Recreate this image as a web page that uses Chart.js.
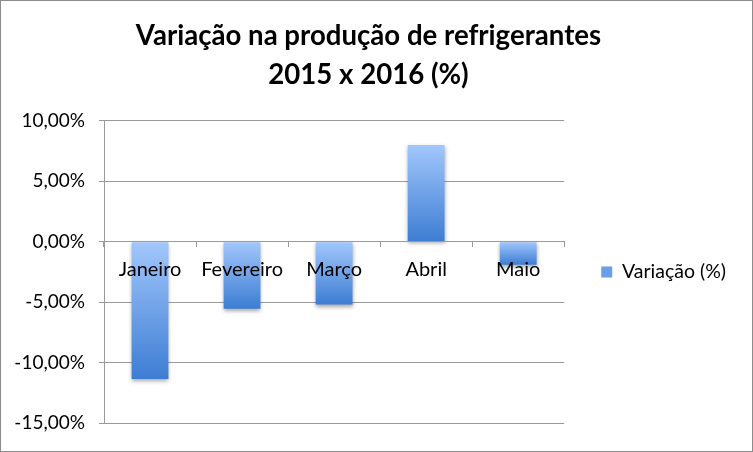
<!DOCTYPE html>
<html>
<head>
<meta charset="utf-8">
<script src="https://cdn.jsdelivr.net/npm/chart.js@4.4.1/dist/chart.umd.min.js"></script>
<style>
  body { margin: 0; background: #fff; }
  #wrap { width: 753px; height: 452px; box-sizing: border-box; border: 1px solid #8c8c8c; }
  canvas { display: block; }
</style>
</head>
<body>
<div id="wrap"><canvas id="chart" width="751" height="450"></canvas></div>
<script>
// valores
const meses = ['Janeiro', 'Fevereiro', 'Março', 'Abril', 'Maio'];
const variacao = [-11.35, -5.55, -5.2, 8.0, -1.9];
const yTicks = [10, 5, 0, -5, -10, -15];

const FONT = 'Lato, "Open Sans", sans-serif';

function formatPct(v) {
    return v.toFixed(2).replace('.', ',') + '%';
}

// gradiente por barra: claro em cima, escuro embaixo
function barGradient(context) {
    const chart = context.chart;
    const yScale = chart.scales.y;
    if (!chart.chartArea || !yScale || context.parsed === undefined) return '#6a9ee8';
    const v = context.parsed.y;
    const top = yScale.getPixelForValue(Math.max(v, 0));
    const bottom = yScale.getPixelForValue(Math.min(v, 0));
    const g = chart.ctx.createLinearGradient(0, top, 0, bottom + 0.01);
    g.addColorStop(0, '#a2c7fc');
    g.addColorStop(1, '#3d7dd3');
    return g;
}

const shadowPlugin = {
    id: 'barShadow',
    beforeDatasetsDraw(chart) {
        const ctx = chart.ctx;
        ctx.save();
        ctx.shadowColor = 'rgba(0,0,0,0.35)';
        ctx.shadowBlur = 4;
        ctx.shadowOffsetY = 2;
    },
    afterDatasetsDraw(chart) {
        chart.ctx.restore();
    }
};

const ctx = document.getElementById('chart').getContext('2d');
new Chart(ctx, {
    type: 'bar',
    data: {
        labels: meses,
        datasets: [{
            label: 'Variação (%)',
            data: variacao,
            backgroundColor: barGradient,
            borderWidth: 0,
            barPercentage: 0.4,
            categoryPercentage: 1.0
        }]
    },
    options: {
        responsive: false,
        animation: false,
        layout: { padding: { left: 0, right: 16, top: 0, bottom: 28 } },
        plugins: {
            title: {
                display: true,
                text: ['Variação na produção de refrigerantes', '2015 x 2016 (%)'],
                color: '#000',
                font: { family: FONT, size: 27.6, weight: 'bold', lineHeight: 1.41 },
                padding: { top: 15.5, bottom: 26.5 }
            },
            legend: {
                position: 'right',
                fullSize: false,
                labels: {
                    color: '#000',
                    font: { family: FONT, size: 19.5 },
                    boxWidth: 11,
                    boxHeight: 11,
                    padding: 37,
                    generateLabels() {
                        return [{
                            text: 'Variação (%)',
                            fillStyle: '#6a9ee8',
                            strokeStyle: '#6a9ee8',
                            lineWidth: 0,
                            datasetIndex: 0
                        }];
                    }
                }
            },
            tooltip: { enabled: false }
        },
        scales: {
            x: {
                position: { y: 0 },
                offset: true,
                grid: {
                    offset: true,
                    drawOnChartArea: false,
                    drawTicks: true,
                    tickLength: 5,
                    color: '#9a9a9a',
                    z: 1
                },
                border: { display: true, color: '#9a9a9a', z: 1 },
                ticks: {
                    color: '#000',
                    font: { family: FONT, size: 20 },
                    padding: 11,
                    maxRotation: 0,
                    z: 1
                }
            },
            y: {
                min: -15,
                max: 10,
                afterFit(scale) { scale.width = 103; },
                afterBuildTicks(scale) {
                    scale.ticks = yTicks.map(v => ({ value: v }));
                },
                grid: {
                    color: '#9a9a9a',
                    tickLength: 5,
                    drawTicks: true
                },
                border: { display: true, color: '#9a9a9a' },
                ticks: {
                    color: '#000',
                    font: { family: FONT, size: 19 },
                    padding: 14,
                    callback: v => formatPct(v)
                }
            }
        }
    },
    plugins: [shadowPlugin]
});
</script>
</body>
</html>
